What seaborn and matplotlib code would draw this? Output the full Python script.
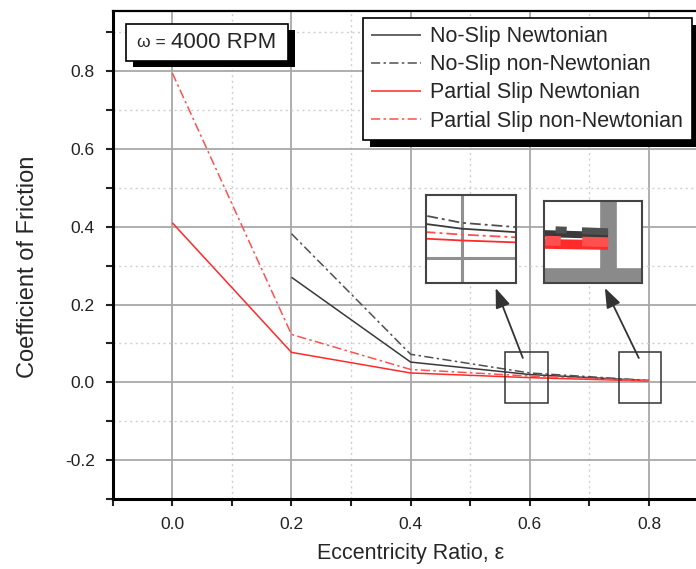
import numpy as np
import pandas as pd
import seaborn as sns
import matplotlib
matplotlib.use("Agg")
import matplotlib.pyplot as plt
from matplotlib.patches import Rectangle
from matplotlib.ticker import MultipleLocator
from matplotlib.transforms import IdentityTransform

# ---- data ----
ecc_all = [0.0, 0.2, 0.4, 0.6, 0.8]
ecc_noslip = [0.2, 0.4, 0.6, 0.8]
noslip_newt = [0.270, 0.052, 0.020, 0.0043]
noslip_nonnewt = [0.382, 0.072, 0.024, 0.0047]
pslip_newt = [0.410, 0.077, 0.024, 0.012, 0.0033]
pslip_nonnewt = [0.795, 0.123, 0.033, 0.016, 0.0036]

labels = ["No-Slip Newtonian", "No-Slip non-Newtonian",
          "Partial Slip Newtonian", "Partial Slip non-Newtonian"]
xticks = [0.0, 0.2, 0.4, 0.6, 0.8]
yticks = [-0.2, 0.0, 0.2, 0.4, 0.6, 0.8]
rpm_label = "4000 RPM"

sns.set_style("ticks")
plt.rcParams["font.family"] = ["Liberation Sans", "DejaVu Sans"]

DASHDOT = (0, (6, 2.2, 1.6, 2.2))
series = [
    (ecc_noslip, noslip_newt, labels[0], "#3a3a3a", "-"),
    (ecc_noslip, noslip_nonnewt, labels[1], "#505050", DASHDOT),
    (ecc_all, pslip_newt, labels[2], "#ff2a2a", "-"),
    (ecc_all, pslip_nonnewt, labels[3], "#ff5050", DASHDOT),
]

W, H = 696, 569
fig = plt.figure(figsize=(W / 100, H / 100), dpi=100)
ax = fig.add_axes([0.162, 0.123, 0.856, 0.858])
PIX = IdentityTransform()


def draw_lines(a, lw=1.1, legend=True, lws=None):
    for i, (xs, ys, lab, col, ls) in enumerate(series):
        w = lws[i] if lws else lw
        sns.lineplot(x=xs, y=ys, ax=a, color=col, linestyle=ls, linewidth=w,
                     label=lab if legend else None, legend=False,
                     solid_capstyle="butt", dash_capstyle="butt")


draw_lines(ax)

ax.set_xlim(-0.1, 0.9)
ax.set_ylim(-0.3, 0.955)
ax.set_xticks(xticks)
ax.set_yticks(yticks)
ax.set_xticklabels([f"{v:.1f}" for v in xticks])
ax.set_yticklabels([f"{v:.1f}" for v in yticks])
ax.xaxis.set_minor_locator(MultipleLocator(0.1))
ax.yaxis.set_minor_locator(MultipleLocator(0.1))
ax.grid(which="major", color="#a8a8a8", linewidth=1.3, linestyle="-")
ax.grid(which="minor", color="#cfcfcf", linewidth=1.0, linestyle=(0, (1.5, 2.5)))
ax.set_axisbelow(True)
ax.tick_params(which="both", direction="out", length=5, width=1.5,
               labelsize=12.5, colors="#222222", top=False, right=False)
ax.tick_params(which="major", pad=8)
for s in ["left", "bottom"]:
    ax.spines[s].set_linewidth(2.2)
    ax.spines[s].set_color("black")
ax.spines["top"].set_linewidth(1.6)
ax.spines["top"].set_color("black")
ax.spines["right"].set_visible(False)

ax.set_xlabel("Eccentricity Ratio, ε", fontsize=15.5)
ax.set_ylabel("Coefficient of Friction", fontsize=17)
ax.xaxis.set_label_coords(0.5, -0.09)
ax.yaxis.set_label_coords(-0.124, 0.475)

# small zoom boxes
ax.add_patch(Rectangle((0.558, -0.054), 0.072, 0.131, fill=False,
                       edgecolor="#333333", linewidth=1.1, zorder=6))
ax.add_patch(Rectangle((0.750, -0.054), 0.070, 0.131, fill=False,
                       edgecolor="#333333", linewidth=1.1, zorder=6))

# arrows
arrow_kw = dict(arrowstyle="-|>,head_length=1.2,head_width=0.45",
                color="#333333", lw=1.3)
ax.annotate("", xy=(0.541, 0.249), xytext=(0.590, 0.056),
            arrowprops=arrow_kw, zorder=7)
ax.annotate("", xy=(0.724, 0.249), xytext=(0.785, 0.056),
            arrowprops=arrow_kw, zorder=7)

# legend
leg = ax.legend(loc="upper right", bbox_to_anchor=(0.972, 0.986),
                fontsize=15.5, frameon=True, fancybox=False,
                edgecolor="black", framealpha=1, handlelength=2.3,
                labelspacing=0.33, borderpad=0.4, handletextpad=0.45,
                borderaxespad=0)
leg.get_frame().set_linewidth(1.2)
leg.set_zorder(10)

# text box (pixel coordinates, origin bottom-left)
bx0, by_top, bw, bh = 126, 24, 162, 37
box = Rectangle((bx0, H - by_top - bh), bw, bh, transform=PIX,
                facecolor="white", edgecolor="black", linewidth=1.2,
                zorder=10, clip_on=False)
ax.add_artist(box)
cy = H - by_top - bh / 2
ax.text(bx0 + 11, cy, "ω =", transform=PIX, ha="left", va="center",
        fontsize=12.5, zorder=11)
ax.text(bx0 + 45, cy, rpm_label, transform=PIX, ha="left", va="center",
        fontsize=16, zorder=11)

# inset 1
in1 = fig.add_axes([0.612, 0.503, 0.129, 0.155])
in1.axvline(0.6, color="#909090", lw=2.2, zorder=0)
in1.axhline(0.0, color="#909090", lw=2.2, zorder=0)
draw_lines(in1, lw=1.3, legend=False)
in1.set_xlim(0.58, 0.63)
in1.set_ylim(-0.0168, 0.0432)

# inset 2
in2 = fig.add_axes([0.782, 0.503, 0.141, 0.144])
in2.axvline(0.8, color="#8a8a8a", lw=12, zorder=0)
in2.axhline(0.0, color="#8a8a8a", lw=12, zorder=0)
draw_lines(in2, legend=False, lws=[5, 5, 7, 7])
in2.set_xlim(0.7974, 0.8014)
in2.set_ylim(-0.00069, 0.00796)

for a in (in1, in2):
    a.set_xticks([])
    a.set_yticks([])
    a.set_xlabel("")
    a.set_ylabel("")
    a.grid(False)
    a.set_facecolor("white")
    for s in a.spines.values():
        s.set_color("#444444")
        s.set_linewidth(1.5)

# black shadows behind legend and text box
fig.canvas.draw()
off = 7
bb = leg.get_window_extent()
ax.add_artist(Rectangle((bb.x0 + off, bb.y0 - off), bb.width, bb.height,
                        transform=PIX, facecolor="black", edgecolor="none",
                        zorder=9.5, clip_on=False))
ax.add_artist(Rectangle((bx0 + 7, H - by_top - bh - 6), bw, bh,
                        transform=PIX, facecolor="black", edgecolor="none",
                        zorder=9.5, clip_on=False))

fig.savefig("out.png", dpi=100)
